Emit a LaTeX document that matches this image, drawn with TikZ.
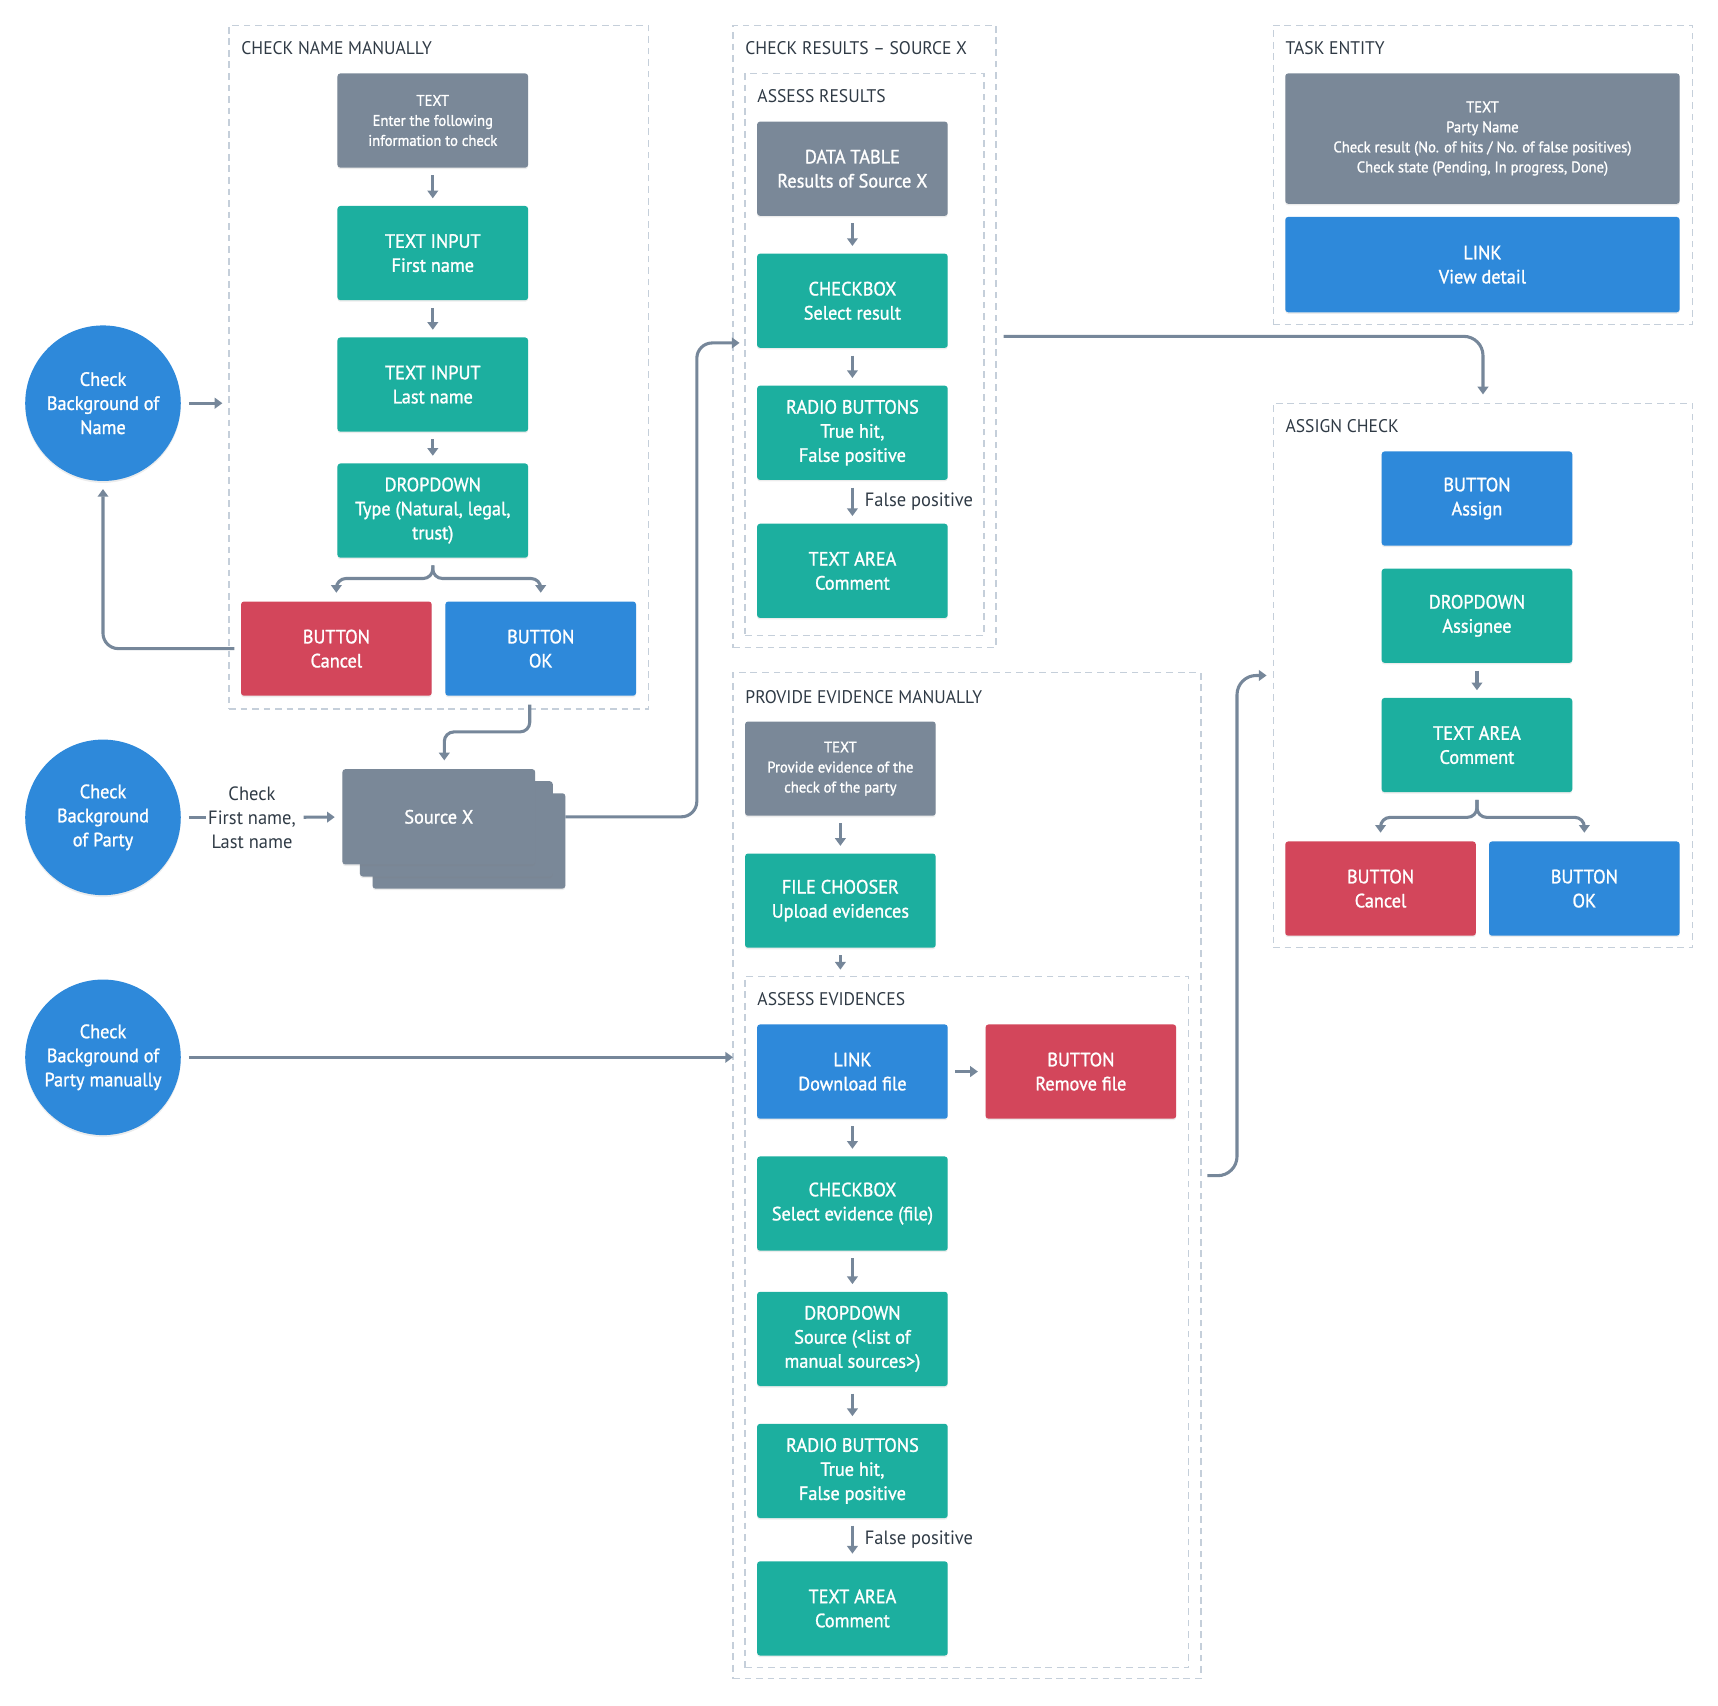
\documentclass[tikz,border=0pt]{standalone}
\usepackage{fontspec}
\setmainfont{PT Sans}[FakeStretch=0.96]
\newfontfamily\boxfont{PT Sans}[FakeBold=1.2, FakeStretch=0.95]
\usetikzlibrary{arrows.meta, fit, shadows}

\definecolor{uiGray}{HTML}{7A8898}
\definecolor{uiTeal}{HTML}{1CAF9F}
\definecolor{uiBlue}{HTML}{2E89DA}
\definecolor{uiRed}{HTML}{D3465B}
\definecolor{uiFrame}{HTML}{C5CFDA}
\definecolor{uiLine}{HTML}{76879A}
\definecolor{uiInk}{HTML}{2F3A45}

\begin{document}
\begin{tikzpicture}[x=0.02cm, y=-0.02cm,
      box/.style={rectangle, rounded corners=1.5pt, minimum width=3.48cm, minimum height=1.72cm,
        inner sep=2pt, outer sep=0pt, align=center, text=white,
        font=\boxfont\fontsize{10}{12.5}\selectfont,
        drop shadow={shadow xshift=0pt, shadow yshift=-0.8pt, opacity=0.15}},
      small/.style={font=\boxfont\fontsize{8}{10.4}\selectfont},
      textbox/.style={box, fill=uiGray},
      inputbox/.style={box, fill=uiTeal},
      linkbox/.style={box, fill=uiBlue},
      dangerbox/.style={box, fill=uiRed},
      wide/.style={minimum width=7.2cm},
      usecase/.style={circle, fill=uiBlue, minimum size=2.84cm, inner sep=0pt, align=center,
        text=white, font=\boxfont\fontsize{10}{12.5}\selectfont,
        drop shadow={shadow xshift=0pt, shadow yshift=-1pt, opacity=0.15}},
      frame/.style={draw=uiFrame, dash pattern=on 3.5pt off 2.5pt, line width=0.7pt,
        inner sep=0pt, outer sep=0pt},
      title/.style={anchor=west, inner sep=0pt, text=uiInk, font=\fontsize{9.5}{11}\selectfont},
      note/.style={inner sep=0pt, text=uiInk, align=center, font=\fontsize{10}{12.5}\selectfont},
      flow/.style={draw=uiLine, line width=1.6pt, -{Triangle[width=5.5pt,length=4pt]},
        shorten <=0.14cm, shorten >=0.14cm}]
  \useasboundingbox (0,0) rectangle (1568,1557);

  % frames
  \node[frame, fit={(209,23) (592,647)}] (fName) {};
  \node[title] at (220,44) {CHECK NAME MANUALLY};
  \node[frame, fit={(669,23) (909,591)}] (fResults) {};
  \node[title] at (680,44) {CHECK RESULTS – SOURCE X};
  \node[frame, fit={(680,67) (898,580)}] (fAssess) {};
  \node[title] at (691,88) {ASSESS RESULTS};
  \node[frame, fit={(1162,23) (1545,296)}] (fTask) {};
  \node[title] at (1173,44) {TASK ENTITY};
  \node[frame, fit={(1162,368) (1545,865)}] (fAssign) {};
  \node[title] at (1173,389) {ASSIGN CHECK};
  \node[frame, fit={(669,614) (1096,1532)}] (fEvid) {};
  \node[title] at (680,636) {PROVIDE EVIDENCE MANUALLY};
  \node[frame, fit={(680,891) (1085,1522)}] (fAssessEv) {};
  \node[title] at (691,912) {ASSESS EVIDENCES};

  % use cases
  \node[usecase] (cName) at (94,368) {Check\\Background of\\Name};
  \node[usecase] (cParty) at (94,746) {Check\\Background\\of Party};
  \node[usecase] (cManual) at (94,965) {Check\\Background of\\Party manually};

  % check name manually
  \node[textbox, small] (tName) at (395,110) {TEXT\\Enter the following\\information to check};
  \node[inputbox] (fFirst) at (395,231) {TEXT INPUT\\First name};
  \node[inputbox] (fLast) at (395,351) {TEXT INPUT\\Last name};
  \node[inputbox] (ddType) at (395,466) {DROPDOWN\\Type (Natural, legal,\\trust)};
  \node[dangerbox] (cancelA) at (307,592) {BUTTON\\Cancel};
  \node[linkbox] (okA) at (493.5,592) {BUTTON\\OK};

  % source x
  \node[note, inner sep=1pt] (lblCheck) at (230,746) {Check\\First name,\\Last name};
  \node[textbox, minimum width=3.52cm, minimum height=1.74cm] (srcC) at (428,767.5) {};
  \node[textbox, minimum width=3.52cm, minimum height=1.74cm] (srcB) at (416.5,756.5) {};
  \node[textbox, minimum width=3.52cm, minimum height=1.74cm] (srcX) at (400.5,745.5) {Source X};

  % check results
  \node[textbox] (dataTbl) at (778,154) {DATA TABLE\\Results of Source X};
  \node[inputbox] (chkRes) at (778,274.5) {CHECKBOX\\Select result};
  \node[inputbox] (radioRes) at (778,395) {RADIO BUTTONS\\True hit,\\False positive};
  \node[inputbox] (areaRes) at (778,521) {TEXT AREA\\Comment};

  % task entity
  \node[textbox, small, wide, minimum height=2.38cm] (taskText) at (1353,126.5)
    {TEXT\\Party Name\\Check result (No. of hits / No. of false positives)\\Check state (Pending, In progress, Done)};
  \node[linkbox, wide, minimum height=1.74cm] (taskLink) at (1353,241.5) {LINK\\View detail};

  % assign check
  \node[linkbox] (assignBtn) at (1348,455) {BUTTON\\Assign};
  \node[inputbox] (assignDd) at (1348,562) {DROPDOWN\\Assignee};
  \node[inputbox] (assignArea) at (1348,680) {TEXT AREA\\Comment};
  \node[dangerbox] (cancelB) at (1260,811) {BUTTON\\Cancel};
  \node[linkbox] (okB) at (1446,811) {BUTTON\\OK};

  % provide evidence manually
  \node[textbox, small] (evText) at (767,701.5) {TEXT\\Provide evidence of the\\check of the party};
  \node[inputbox] (fileCh) at (767,822) {FILE CHOOSER\\Upload evidences};
  \node[linkbox] (dlLink) at (778,978) {LINK\\Download file};
  \node[dangerbox] (rmBtn) at (986.5,978) {BUTTON\\Remove file};
  \node[inputbox] (chkEv) at (778,1098.5) {CHECKBOX\\Select evidence (file)};
  \node[inputbox] (ddSrc) at (778,1222) {DROPDOWN\\Source (<list of\\manual sources>)};
  \node[inputbox] (radioEv) at (778,1342.5) {RADIO BUTTONS\\True hit,\\False positive};
  \node[inputbox] (areaEv) at (778,1468) {TEXT AREA\\Comment};

  % connectors
  \draw[flow, shorten >=0.12cm] (cName) -- (cName -| fName.west);
  \draw[flow] (tName) -- (fFirst);
  \draw[flow] (fFirst) -- (fLast);
  \draw[flow] (fLast) -- (ddType);
  \draw[flow, rounded corners=5pt, shorten >=0.16cm] (ddType.south) -- ++(0,19) -| (cancelA.north);
  \draw[flow, rounded corners=5pt, shorten >=0.16cm] (ddType.south) -- ++(0,19) -| (okA.north);
  \draw[flow, rounded corners=8pt, shorten <=0.12cm] (cancelA.west) -| (cName.south);
  \draw[flow, rounded corners=5pt, shorten <=0.16cm, shorten >=0.16cm]
    ([xshift=-0.2cm]okA.south) -- ++(0,33) -| ([xshift=0.1cm]srcX.north);
  \draw[flow, -, shorten >=0pt] (cParty) -- (lblCheck);
  \draw[flow, shorten <=0.1cm] (lblCheck) -- (srcX);
  \draw[flow, rounded corners=8pt, shorten <=0pt, shorten >=0pt]
    (srcX.east -| srcC.east) -- ++(120,0) |- ([xshift=0.12cm, yshift=-0.12cm]fResults.west);
  \draw[flow, shorten >=0pt] (cManual) -- (cManual -| fEvid.west);

  \draw[flow] (dataTbl) -- (chkRes);
  \draw[flow] (chkRes) -- (radioRes);
  \draw[flow] (radioRes) -- node[note, anchor=west, right=0.2cm] {False positive} (areaRes);
  \draw[flow, rounded corners=10pt, shorten >=0.16cm] (fResults.east) -| (fAssign.north);

  \draw[flow] (assignDd) -- (assignArea);
  \draw[flow, rounded corners=5pt, shorten >=0.16cm] (assignArea.south) -- ++(0,23) -| (cancelB.north);
  \draw[flow, rounded corners=5pt, shorten >=0.16cm] (assignArea.south) -- ++(0,23) -| (okB.north);

  \draw[flow] (evText) -- (fileCh);
  \draw[flow, shorten >=0.12cm] (fileCh.south) -- (fileCh.south |- fAssessEv.north);
  \draw[flow] (dlLink) -- (rmBtn);
  \draw[flow] (dlLink) -- (chkEv);
  \draw[flow] (chkEv) -- (ddSrc);
  \draw[flow] (ddSrc) -- (radioEv);
  \draw[flow] (radioEv) -- node[note, anchor=west, right=0.2cm] {False positive} (areaEv);
  \draw[flow, rounded corners=10pt, shorten <=0.12cm, shorten >=0.12cm]
    (fEvid.east) -- ++(33,0) |- (fAssign.west);
\end{tikzpicture}
\end{document}
